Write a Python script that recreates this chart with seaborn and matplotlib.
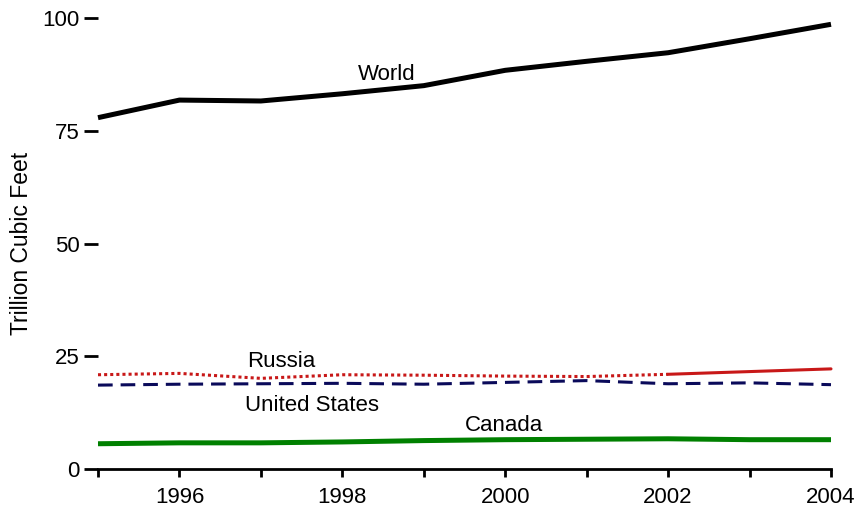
import matplotlib
matplotlib.use("Agg")
import matplotlib.pyplot as plt
import seaborn as sns
import pandas as pd

years = [1995, 1996, 1997, 1998, 1999, 2000, 2001, 2002, 2003, 2004]
world = [77.9, 81.8, 81.6, 83.2, 85.0, 88.4, 90.4, 92.3, 95.4, 98.6]
russia = [20.9, 21.2, 20.1, 20.9, 20.8, 20.6, 20.5, 21.0, 21.6, 22.2]
united_states = [18.6, 18.8, 18.9, 19.0, 18.8, 19.2, 19.6, 18.9, 19.1, 18.7]
canada = [5.6, 5.8, 5.8, 6.0, 6.3, 6.5, 6.6, 6.7, 6.5, 6.5]
y_ticks = [0, 25, 50, 75, 100]
x_label_years = [1996, 1998, 2000, 2002, 2004]

sns.set_style("white")
plt.rcParams['font.family'] = ['Liberation Sans', 'DejaVu Sans']
plt.rcParams['text.color'] = 'black'
plt.rcParams['axes.labelcolor'] = 'black'
plt.rcParams['xtick.color'] = 'black'
plt.rcParams['ytick.color'] = 'black'

df = pd.DataFrame({"year": years, "World": world, "Russia": russia,
                   "United States": united_states, "Canada": canada})

fig = plt.figure(figsize=(8.6, 5.13), dpi=100)
ax = fig.add_axes([98/860, 1-469/513, (831-98)/860, (469-18)/513])

sns.lineplot(data=df, x="year", y="World", ax=ax, color="black", lw=3.6,
             solid_capstyle="butt", clip_on=False)
split = years.index(2002)
sns.lineplot(data=df.iloc[:split+1], x="year", y="Russia", ax=ax, color="#c81818",
             lw=2.2, linestyle=(0, (1, 1)), clip_on=False)
sns.lineplot(data=df.iloc[split:], x="year", y="Russia", ax=ax, color="#c81818",
             lw=2.2, clip_on=False)
sns.lineplot(data=df, x="year", y="United States", ax=ax, color="#0a0a5a",
             lw=2.2, linestyle=(0, (4.8, 2.6)), clip_on=False)
sns.lineplot(data=df, x="year", y="Canada", ax=ax, color="#008000", lw=3.6,
             solid_capstyle="butt", clip_on=False)

ax.set_xlim(1995, 2004)
ax.set_ylim(0, 100)
ax.set_xticks(years)
ax.set_xticklabels([str(y) if y in x_label_years else "" for y in years])
ax.set_yticks(y_ticks)
ax.set_xlabel("")
ax.set_ylabel("Trillion Cubic Feet", fontsize=16.5, color="black")
ax.yaxis.set_label_coords(-(98-33)/733, 0.5)

for s in ["top", "right", "left"]:
    ax.spines[s].set_visible(False)
ax.spines["bottom"].set_color("black")
ax.spines["bottom"].set_linewidth(2)
ax.tick_params(axis="x", which="major", direction="out", length=6, width=2,
               color="black", labelcolor="black", labelsize=16, pad=7, bottom=True)
ax.tick_params(axis="y", which="major", direction="out", length=10, width=2,
               color="black", labelcolor="black", labelsize=16, pad=3, left=True)

ax.text(1998.55, 87.5, "World", fontsize=16, ha="center", va="center", color="black")
ax.text(1997.25, 23.9, "Russia", fontsize=16, ha="center", va="center", color="black")
ax.text(1997.63, 14.0, "United States", fontsize=16, ha="center", va="center", color="black")
ax.text(1999.98, 9.7, "Canada", fontsize=16, ha="center", va="center", color="black")

fig.savefig("out.png", dpi=100)
